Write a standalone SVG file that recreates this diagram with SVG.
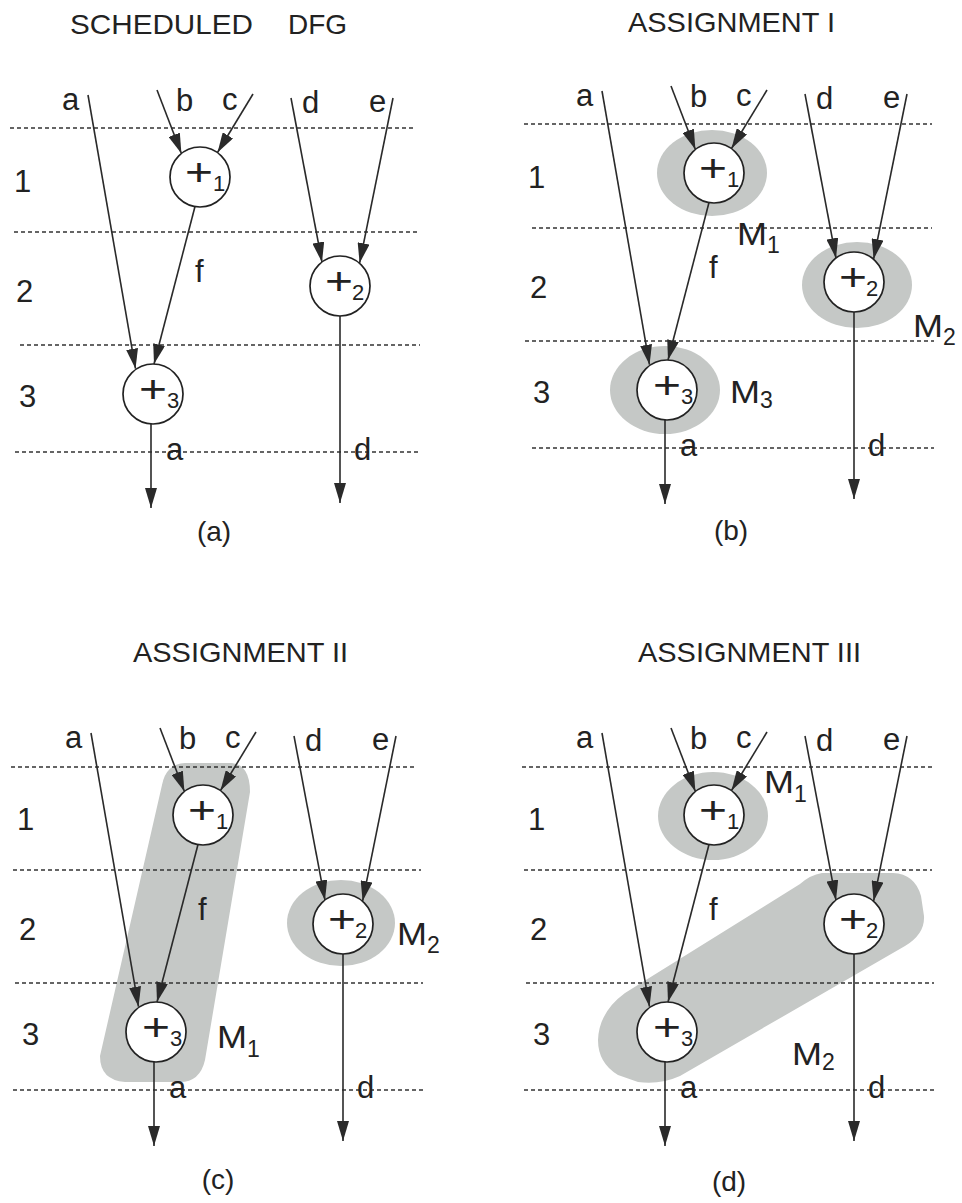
<svg xmlns="http://www.w3.org/2000/svg" width="962" height="1203" viewBox="0 0 962 1203">
<defs>
<marker id="arr" markerUnits="userSpaceOnUse" markerWidth="20" markerHeight="12" refX="20" refY="6" orient="auto" viewBox="0 0 20 12">
<path d="M0,0 L20,6 L0,12 Z" fill="#2a2a2a"/>
</marker>
<style>
text{font-family:"Liberation Sans",Arial,sans-serif;fill:#222}
.t{font-size:28px}
.l{font-size:31px}
.p{font-size:38px;text-anchor:middle;font-weight:300}
.s{font-size:22px}
.ms{font-size:23px}
.cap{font-size:28px;text-anchor:middle}
.g line{stroke:#333;stroke-width:1.6;stroke-dasharray:4 3}
.c path{stroke:#2a2a2a;stroke-width:1.6;fill:none;marker-end:url(#arr)}
.n circle{fill:#fff;stroke:#222;stroke-width:1.7}
.sh{fill:#c5c8c6}
</style>
</defs>
<rect width="962" height="1203" fill="#fff"/>

<g id="titles">
<text class="t" x="70" y="34" textLength="183" lengthAdjust="spacingAndGlyphs">SCHEDULED</text>
<text class="t" x="288" y="34" textLength="59" lengthAdjust="spacingAndGlyphs">DFG</text>
<text class="t" x="628" y="32" textLength="207" lengthAdjust="spacingAndGlyphs">ASSIGNMENT I</text>
<text class="t" x="133" y="662" textLength="215" lengthAdjust="spacingAndGlyphs">ASSIGNMENT II</text>
<text class="t" x="638" y="662" textLength="223" lengthAdjust="spacingAndGlyphs">ASSIGNMENT III</text>
<text class="cap" x="214" y="541">(a)</text>
<text class="cap" x="731" y="540">(b)</text>
<text class="cap" x="218" y="1189">(c)</text>
<text class="cap" x="729" y="1191">(d)</text>
</g>

<g id="modules">
<ellipse id="b-M1" class="sh" cx="712" cy="173" rx="55" ry="43"/>
<ellipse id="b-M2" class="sh" cx="857" cy="285" rx="55" ry="43"/>
<ellipse id="b-M3" class="sh" cx="665" cy="390" rx="55" ry="44"/>
<path id="c-M1" class="sh" d="M185 763 L232 763 Q250 765 250 792 L205 1060 Q200 1082 180 1082 L125 1082 Q100 1080 100 1056 L162 785 Q166 764 185 763 Z"/>
<ellipse id="c-M2" class="sh" cx="341" cy="923" rx="54" ry="43"/>
<ellipse id="d-M1" class="sh" cx="713" cy="816" rx="55" ry="44"/>
<path id="d-M2" class="sh" d="M822 873 L893 873 Q915 874 921 896 L924 916 Q925 934 905 946 L680 1076 Q660 1085 638 1082 L618 1075 Q598 1063 598 1040 Q599 1012 625 993 L800 884 Q810 875 822 873 Z"/>
</g>

<g id="panel-a">
<g class="g"><line x1="10" y1="128" x2="414" y2="128"/><line x1="14" y1="232" x2="418" y2="232"/><line x1="20" y1="345" x2="420" y2="345"/><line x1="15" y1="452" x2="420" y2="452"/></g>
<g id="a-connectors" class="c">
<path d="M88 95 L135.5 368.7"/><path d="M157 90 L181.4 153.5"/><path d="M253 94 L217.5 152.5"/><path d="M291 98 L322 262.2"/><path d="M393 98 L359.6 263.1"/><path d="M195 206.5 L154 364"/><path d="M151 424 L151 508"/><path d="M340 316 L340 503"/>
</g>
<g id="a-n1" class="n"><circle cx="200" cy="177" r="30"/><text class="p" x="199" y="185" textLength="28" lengthAdjust="spacingAndGlyphs">+</text><text class="s" x="213" y="191">1</text></g>
<g id="a-n2" class="n"><circle cx="340" cy="286" r="30"/><text class="p" x="339" y="294" textLength="28" lengthAdjust="spacingAndGlyphs">+</text><text class="s" x="352" y="300">2</text></g>
<g id="a-n3" class="n"><circle cx="153" cy="394" r="30"/><text class="p" x="153" y="402" textLength="28" lengthAdjust="spacingAndGlyphs">+</text><text class="s" x="167" y="408">3</text></g>
<g><text class="l" x="62" y="110">a</text><text class="l" x="176" y="111">b</text><text class="l" x="222" y="110">c</text><text class="l" x="302" y="113">d</text><text class="l" x="369" y="112">e</text><text class="l" x="195" y="282">f</text><text class="l" x="166" y="460">a</text><text class="l" x="354" y="460">d</text><text class="l" x="14" y="192">1</text><text class="l" x="16" y="302">2</text><text class="l" x="19" y="407">3</text></g>
</g>

<g id="panel-b" transform="translate(514,-4)">
<g class="g"><line x1="10" y1="128" x2="418" y2="128"/><line x1="18" y1="232" x2="418" y2="232"/><line x1="11" y1="345" x2="420" y2="345"/><line x1="18" y1="452" x2="420" y2="452"/></g>
<g id="b-connectors" class="c">
<path d="M88 95 L135.5 368.7"/><path d="M157 90 L181.4 153.5"/><path d="M253 94 L217.5 152.5"/><path d="M291 98 L322 262.2"/><path d="M393 98 L359.6 263.1"/><path d="M195 206.5 L154 364"/><path d="M151 424 L151 508"/><path d="M340 316 L340 503"/>
</g>
<g id="b-n1" class="n"><circle cx="200" cy="177" r="30"/><text class="p" x="199" y="185" textLength="28" lengthAdjust="spacingAndGlyphs">+</text><text class="s" x="213" y="191">1</text></g>
<g id="b-n2" class="n"><circle cx="340" cy="286" r="30"/><text class="p" x="339" y="294" textLength="28" lengthAdjust="spacingAndGlyphs">+</text><text class="s" x="352" y="300">2</text></g>
<g id="b-n3" class="n"><circle cx="153" cy="394" r="30"/><text class="p" x="153" y="402" textLength="28" lengthAdjust="spacingAndGlyphs">+</text><text class="s" x="167" y="408">3</text></g>
<g><text class="l" x="62" y="110">a</text><text class="l" x="176" y="111">b</text><text class="l" x="222" y="110">c</text><text class="l" x="302" y="113">d</text><text class="l" x="369" y="112">e</text><text class="l" x="195" y="282">f</text><text class="l" x="166" y="460">a</text><text class="l" x="354" y="460">d</text><text class="l" x="14" y="192">1</text><text class="l" x="16" y="302">2</text><text class="l" x="19" y="407">3</text></g>
</g>

<g id="panel-c" transform="translate(3,638)">
<g class="g"><line x1="8" y1="129" x2="414" y2="129"/><line x1="10" y1="232" x2="418" y2="232"/><line x1="12" y1="345" x2="420" y2="345"/><line x1="10" y1="452" x2="420" y2="452"/></g>
<g id="c-connectors" class="c">
<path d="M88 95 L135.5 368.7"/><path d="M157 90 L181.4 153.5"/><path d="M253 94 L217.5 152.5"/><path d="M291 98 L322 262.2"/><path d="M393 98 L359.6 263.1"/><path d="M195 206.5 L154 364"/><path d="M151 424 L151 508"/><path d="M340 316 L340 503"/>
</g>
<g id="c-n1" class="n"><circle cx="200" cy="177" r="30"/><text class="p" x="199" y="185" textLength="28" lengthAdjust="spacingAndGlyphs">+</text><text class="s" x="213" y="191">1</text></g>
<g id="c-n2" class="n"><circle cx="340" cy="286" r="30"/><text class="p" x="339" y="294" textLength="28" lengthAdjust="spacingAndGlyphs">+</text><text class="s" x="352" y="300">2</text></g>
<g id="c-n3" class="n"><circle cx="153" cy="394" r="30"/><text class="p" x="153" y="402" textLength="28" lengthAdjust="spacingAndGlyphs">+</text><text class="s" x="167" y="408">3</text></g>
<g><text class="l" x="62" y="110">a</text><text class="l" x="176" y="111">b</text><text class="l" x="222" y="110">c</text><text class="l" x="302" y="113">d</text><text class="l" x="369" y="112">e</text><text class="l" x="195" y="282">f</text><text class="l" x="166" y="460">a</text><text class="l" x="354" y="460">d</text><text class="l" x="14" y="192">1</text><text class="l" x="16" y="302">2</text><text class="l" x="19" y="407">3</text></g>
</g>

<g id="panel-d" transform="translate(514,638)">
<g class="g"><line x1="8" y1="129" x2="418" y2="129"/><line x1="10" y1="232" x2="418" y2="232"/><line x1="12" y1="345" x2="420" y2="345"/><line x1="10" y1="452" x2="420" y2="452"/></g>
<g id="d-connectors" class="c">
<path d="M88 95 L135.5 368.7"/><path d="M157 90 L181.4 153.5"/><path d="M253 94 L217.5 152.5"/><path d="M291 98 L322 262.2"/><path d="M393 98 L359.6 263.1"/><path d="M195 206.5 L154 364"/><path d="M151 424 L151 508"/><path d="M340 316 L340 503"/>
</g>
<g id="d-n1" class="n"><circle cx="200" cy="177" r="30"/><text class="p" x="199" y="185" textLength="28" lengthAdjust="spacingAndGlyphs">+</text><text class="s" x="213" y="191">1</text></g>
<g id="d-n2" class="n"><circle cx="340" cy="286" r="30"/><text class="p" x="339" y="294" textLength="28" lengthAdjust="spacingAndGlyphs">+</text><text class="s" x="352" y="300">2</text></g>
<g id="d-n3" class="n"><circle cx="153" cy="394" r="30"/><text class="p" x="153" y="402" textLength="28" lengthAdjust="spacingAndGlyphs">+</text><text class="s" x="167" y="408">3</text></g>
<g><text class="l" x="62" y="110">a</text><text class="l" x="176" y="111">b</text><text class="l" x="222" y="110">c</text><text class="l" x="302" y="113">d</text><text class="l" x="369" y="112">e</text><text class="l" x="195" y="282">f</text><text class="l" x="166" y="460">a</text><text class="l" x="354" y="460">d</text><text class="l" x="14" y="192">1</text><text class="l" x="16" y="302">2</text><text class="l" x="19" y="407">3</text></g>
</g>

<g id="module-labels">
<text class="l" x="737" y="245" textLength="30" lengthAdjust="spacingAndGlyphs">M</text><text class="ms" x="767" y="253">1</text>
<text class="l" x="913" y="337" textLength="30" lengthAdjust="spacingAndGlyphs">M</text><text class="ms" x="943" y="345">2</text>
<text class="l" x="730" y="403" textLength="30" lengthAdjust="spacingAndGlyphs">M</text><text class="ms" x="760" y="408">3</text>
<text class="l" x="397" y="945" textLength="30" lengthAdjust="spacingAndGlyphs">M</text><text class="ms" x="427" y="953">2</text>
<text class="l" x="217" y="1048" textLength="30" lengthAdjust="spacingAndGlyphs">M</text><text class="ms" x="247" y="1057">1</text>
<text class="l" x="764" y="793" textLength="30" lengthAdjust="spacingAndGlyphs">M</text><text class="ms" x="794" y="802">1</text>
<text class="l" x="792" y="1065" textLength="30" lengthAdjust="spacingAndGlyphs">M</text><text class="ms" x="822" y="1070">2</text>
</g>
</svg>
